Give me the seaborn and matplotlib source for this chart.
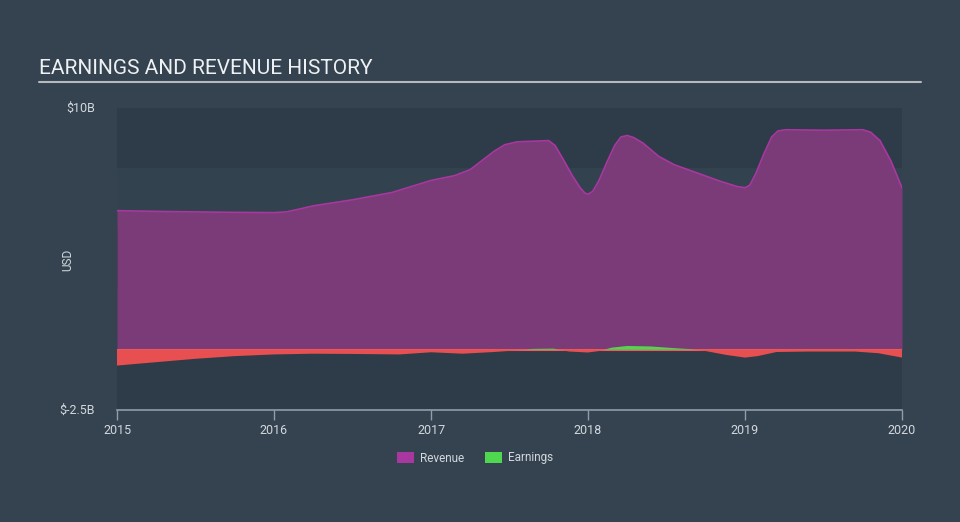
import matplotlib
matplotlib.use("Agg")
import matplotlib.pyplot as plt
from matplotlib.patches import Patch
from matplotlib.lines import Line2D
import seaborn as sns
import pandas as pd
import numpy as np

# ---- data (billions USD, decimal years) ----
rev_years = [2015.00, 2015.25, 2015.50, 2015.75, 2016.00, 2016.08, 2016.15, 2016.25, 2016.50,
             2016.75, 2016.90, 2017.00, 2017.15, 2017.25, 2017.32, 2017.40, 2017.47, 2017.55,
             2017.75, 2017.79, 2017.84, 2017.90, 2017.95, 2017.98, 2018.00, 2018.03, 2018.07,
             2018.12, 2018.17, 2018.21, 2018.25, 2018.29, 2018.35, 2018.45, 2018.55, 2018.70,
             2018.85, 2018.95, 2019.00, 2019.03, 2019.07, 2019.12, 2019.17, 2019.21, 2019.26,
             2019.50, 2019.75, 2019.80, 2019.86, 2019.93, 2020.00]
revenue = [5.75, 5.72, 5.70, 5.68, 5.67, 5.70, 5.80, 5.95, 6.20,
           6.50, 6.80, 7.00, 7.20, 7.45, 7.80, 8.20, 8.48, 8.60,
           8.65, 8.45, 7.90, 7.20, 6.70, 6.48, 6.43, 6.55, 7.00,
           7.75, 8.45, 8.80, 8.86, 8.78, 8.55, 8.00, 7.65, 7.30,
           6.95, 6.75, 6.70, 6.80, 7.30, 8.10, 8.80, 9.05, 9.10,
           9.08, 9.10, 9.00, 8.65, 7.80, 6.70]

earn_years = [2015.00, 2015.25, 2015.50, 2015.75, 2016.00, 2016.25, 2016.50, 2016.80,
              2017.00, 2017.20, 2017.40, 2017.55, 2017.65, 2017.78, 2017.88, 2018.00,
              2018.08, 2018.15, 2018.25, 2018.40, 2018.55, 2018.65, 2018.75, 2018.88,
              2019.00, 2019.08, 2019.20, 2019.40, 2019.70, 2019.85, 2020.00]
earnings = [-0.66, -0.52, -0.38, -0.27, -0.20, -0.17, -0.18, -0.20,
            -0.11, -0.17, -0.10, -0.03, 0.03, 0.04, -0.08, -0.12,
            -0.05, 0.08, 0.15, 0.13, 0.06, 0.02, -0.06, -0.22,
            -0.33, -0.27, -0.10, -0.08, -0.08, -0.15, -0.33]

x_ticks = [2015, 2016, 2017, 2018, 2019, 2020]
y_ticks = [10, -2.5]
y_tick_labels = ["$10B", "$-2.5B"]
legend_labels = ["Revenue", "Earnings"]

BG = "#34434f"
PLOT_DARK = "#2e3c4a"
PLOT_LIGHT = "#33424f"
REV_FILL = "#7b3a78"
REV_LINE = "#a8389f"
NEG = "#e84f50"
POS = "#4fd84f"
TXT = "#d2d8de"
AXC = "#8e9eae"

sns.set_theme(style="dark")
plt.rcParams["font.family"] = ["Roboto", "DejaVu Sans"]

fig = plt.figure(figsize=(9.6, 5.22), dpi=100, facecolor=BG)
ax = fig.add_axes([117/960, 1-410/522, (902-117)/960, (410-108)/522])
ax.set_facecolor(PLOT_DARK)

# alternating bands
for i, lo in enumerate(np.arange(-2.5, 10, 2.5)):
    if i % 2 == 1:
        ax.axhspan(lo, lo + 2.5, color=PLOT_LIGHT, lw=0, zorder=0)

rev_df = pd.DataFrame({"year": rev_years, "value": revenue})
earn_df = pd.DataFrame({"year": earn_years, "value": earnings})

ax.fill_between(rev_df["year"], 0, rev_df["value"], color=REV_FILL, lw=0, zorder=2)
sns.lineplot(data=rev_df, x="year", y="value", ax=ax, color=REV_LINE, lw=1.2, zorder=3)

ev = np.array(earnings)
ax.axhline(0, color="#e56060", lw=1.5, zorder=3)
ax.fill_between(earn_df["year"], 0, ev, where=ev < 0, interpolate=True, color=NEG, lw=0, zorder=4)
ax.fill_between(earn_df["year"], 0, ev, where=ev > 0, interpolate=True, color=POS, lw=0, zorder=4)

ax.set_xlim(2015, 2020)
ax.set_ylim(-2.5, 10)
ax.set_xticks(x_ticks)
ax.set_xticklabels([str(t) for t in x_ticks], color=TXT, fontsize=9)
ax.set_yticks(y_ticks)
ax.set_yticklabels(y_tick_labels, color=TXT, fontsize=9)
ax.tick_params(axis="x", direction="out", length=7, width=1, color=AXC, pad=3, bottom=True)
ax.tick_params(axis="y", length=0, pad=16)
for lbl in ax.get_yticklabels():
    lbl.set_verticalalignment("center")
ax.set_xlabel("")
ax.set_ylabel("")
ax.grid(False)
for s in ["top", "right", "left"]:
    ax.spines[s].set_visible(False)
ax.spines["bottom"].set_color(AXC)
ax.spines["bottom"].set_linewidth(1.2)

fig.text(68/960, 1-260/522, "USD", rotation=90, color=TXT, fontsize=8.5, ha="center", va="center")

fig.text(39/960, 1-69/522, "EARNINGS AND REVENUE HISTORY", color="#eef1f3", fontsize=15, ha="left", va="center")
fig.add_artist(Line2D([39/960, 921/960], [1-82/522, 1-82/522], color="#b4b9be", lw=1.5, transform=fig.transFigure))

handles = [Patch(facecolor="#a8389f", edgecolor="none", label=legend_labels[0]),
           Patch(facecolor=POS, edgecolor="none", label=legend_labels[1])]
fig.legend(handles=handles, loc="center", bbox_to_anchor=(475/960, 1-458/522), ncol=2, frameon=False,
           fontsize=8.5, labelcolor=TXT, handlelength=1.4, handleheight=1.1, columnspacing=1.8, handletextpad=0.5)

fig.savefig("out.png", dpi=100, facecolor=BG)
